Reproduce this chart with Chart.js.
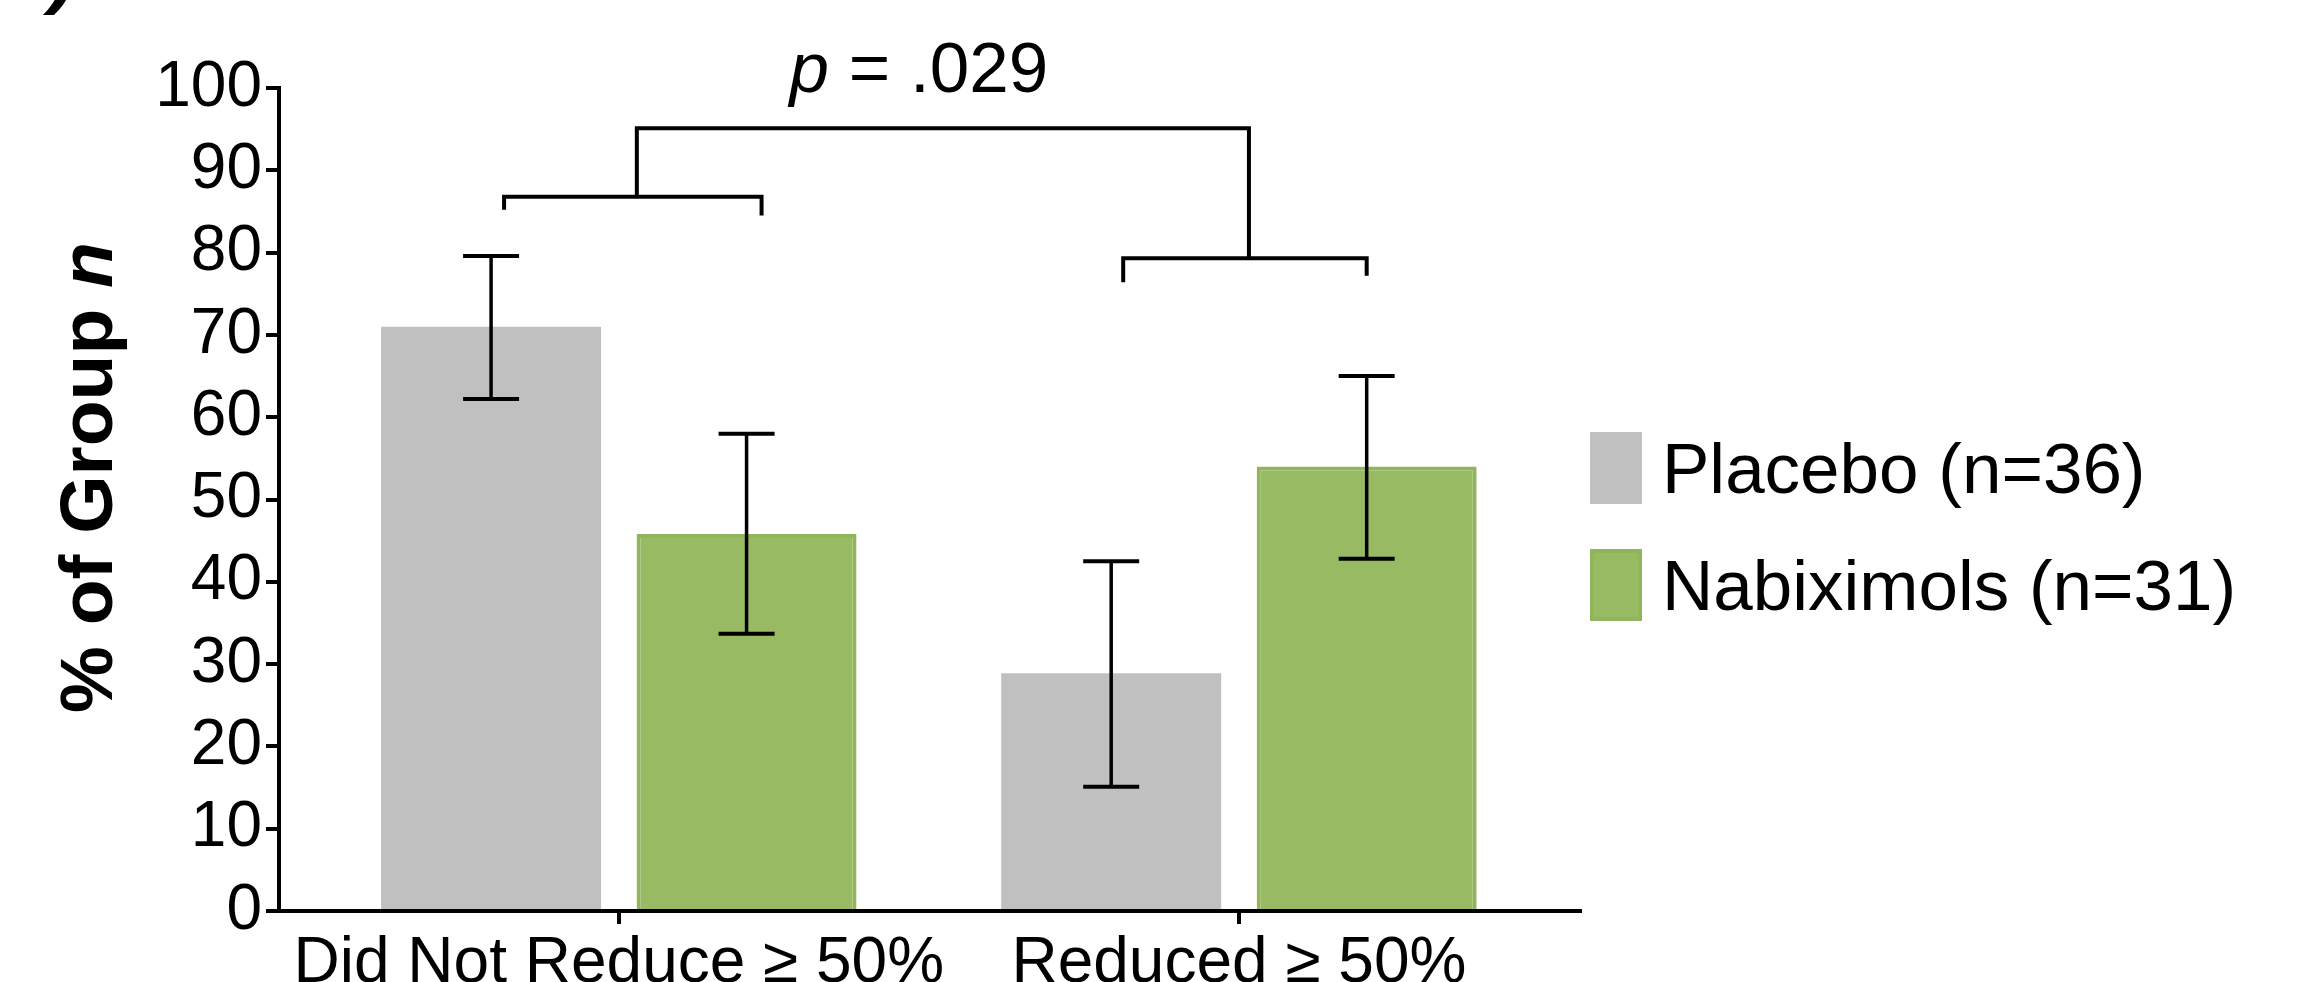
<!DOCTYPE html>
<html>
<head>
<meta charset="utf-8">
<script src="https://cdn.jsdelivr.net/npm/chart.js@4.4.1/dist/chart.umd.min.js"></script>
<style>
  html, body { margin: 0; padding: 0; background: #ffffff; }
  #wrap { width: 2301px; height: 982px; }
</style>
</head>
<body>
<div id="wrap"><canvas id="c" width="2301" height="982"></canvas></div>
<script>
// ---------------- data ----------------
const categories = ['Did Not Reduce \u2265 50%', 'Reduced \u2265 50%'];
const seriesNames = ['Placebo (n=36)', 'Nabiximols (n=31)'];
const placeboValues = [71.0, 28.9];
const nabiximolsValues = [45.8, 54.0];
const placeboErrLow = [62.2, 15.1];
const placeboErrHigh = [79.6, 42.5];
const nabiximolsErrLow = [33.7, 42.8];
const nabiximolsErrHigh = [58.0, 65.0];
const yTicks = [0, 10, 20, 30, 40, 50, 60, 70, 80, 90, 100];
const bracketLevels = [86.8, 79.3];
const bracketLegEnds = [[85.2, 84.5], [76.4, 77.2]];
const overallBracketLevel = 95.1;
const pValueText = ' = .029';
const yTitleMain = '% of Group ';
const yTitleItalic = 'n';

// ---------------- style ----------------
const FONT = "'Liberation Sans', Arial, Helvetica, sans-serif";
const GREY = '#c0c0c0';
const GREEN = '#97ba62';
const GREEN_EDGE = '#91b55b';
const LEG_NUDGE = [[13, 15], [12, 0]];

const annotations = {
  id: 'annotations',
  afterDatasetsDraw(chart) {
    const ctx = chart.ctx;
    const y = chart.scales.y;
    const metas = [chart.getDatasetMeta(0), chart.getDatasetMeta(1)];
    const errs = [[placeboErrLow, placeboErrHigh], [nabiximolsErrLow, nabiximolsErrHigh]];
    ctx.save();
    ctx.strokeStyle = '#000';
    ctx.lineCap = 'butt';
    // error bars
    metas.forEach((m, di) => {
      m.data.forEach((el, i) => {
        const x = el.x;
        const yl = y.getPixelForValue(errs[di][0][i]);
        const yh = y.getPixelForValue(errs[di][1][i]);
        ctx.lineWidth = 3.5;
        ctx.beginPath(); ctx.moveTo(x, yl); ctx.lineTo(x, yh); ctx.stroke();
        ctx.lineWidth = 4;
        ctx.beginPath();
        ctx.moveTo(x - 28, yl); ctx.lineTo(x + 28, yl);
        ctx.moveTo(x - 28, yh); ctx.lineTo(x + 28, yh);
        ctx.stroke();
      });
    });
    // group brackets
    ctx.lineWidth = 4;
    ctx.lineJoin = 'miter';
    const mids = [];
    bracketLevels.forEach((lvl, i) => {
      const xl = metas[0].data[i].x + LEG_NUDGE[i][0];
      const xr = metas[1].data[i].x + LEG_NUDGE[i][1];
      const yb = y.getPixelForValue(lvl);
      ctx.beginPath();
      ctx.moveTo(xl, y.getPixelForValue(bracketLegEnds[i][0]));
      ctx.lineTo(xl, yb);
      ctx.lineTo(xr, yb);
      ctx.lineTo(xr, y.getPixelForValue(bracketLegEnds[i][1]));
      ctx.stroke();
      mids.push({x: (xl + xr) / 2 + 4, y: yb});
    });
    // overall bracket
    const yt = y.getPixelForValue(overallBracketLevel);
    ctx.beginPath();
    ctx.moveTo(mids[0].x, mids[0].y);
    ctx.lineTo(mids[0].x, yt);
    ctx.lineTo(mids[1].x, yt);
    ctx.lineTo(mids[1].x, mids[1].y);
    ctx.stroke();
    // p value text
    ctx.fillStyle = '#000';
    ctx.textBaseline = 'alphabetic';
    ctx.textAlign = 'left';
    const fI = 'italic 71px ' + FONT, fN = '71px ' + FONT;
    ctx.font = fI; const wp = ctx.measureText('p').width;
    ctx.font = fN; const wr = ctx.measureText(pValueText).width;
    const cx = (mids[0].x + mids[1].x) / 2 - 24;
    const sx = cx - (wp + wr) / 2;
    const by = yt - 36;
    ctx.font = fI; ctx.fillText('p', sx, by);
    ctx.font = fN; ctx.fillText(pValueText, sx + wp, by);
    ctx.restore();
  },
  afterDraw(chart) {
    const ctx = chart.ctx;
    const area = chart.chartArea;
    ctx.save();
    ctx.fillStyle = '#000';
    // y-axis title, rotated, with italic n
    const fB = 'bold 75px ' + FONT, fBI = 'bold italic 75px ' + FONT;
    ctx.font = fB; const w1 = ctx.measureText(yTitleMain).width;
    ctx.font = fBI; const w2 = ctx.measureText(yTitleItalic).width;
    const cy = (area.top + area.bottom) / 2 - 22;
    ctx.translate(112, cy);
    ctx.rotate(-Math.PI / 2);
    ctx.textBaseline = 'alphabetic';
    ctx.textAlign = 'left';
    const sx = -(w1 + w2) / 2;
    ctx.font = fB; ctx.fillText(yTitleMain, sx, 0);
    ctx.font = fBI; ctx.fillText(yTitleItalic, sx + w1, 0);
    ctx.setTransform(1, 0, 0, 1, 0, 0);
    // panel label fragment at top-left (cut off by the top edge)
    ctx.font = 'bold italic 80px ' + FONT;
    ctx.fillText(')', 50, -2);
    // legend
    const ds = chart.data.datasets;
    const bx = area.right + 10;
    ds.forEach((d, i) => {
      const c = area.top + 380 + i * 117;
      ctx.fillStyle = d.backgroundColor;
      ctx.fillRect(bx, c - 36, 52, 72);
      if (d.borderColor) {
        ctx.strokeStyle = d.borderColor;
        ctx.lineWidth = 4;
        ctx.strokeRect(bx + 2, c - 34, 48, 68);
      }
      ctx.fillStyle = '#000';
      ctx.font = '71px ' + FONT;
      ctx.textBaseline = 'alphabetic';
      ctx.fillText(d.label, bx + 52 + 20, c + 25);
    });
    ctx.restore();
  }
};

new Chart(document.getElementById('c').getContext('2d'), {
  type: 'bar',
  data: {
    datasets: [
      {
        label: seriesNames[0],
        data: placeboValues.map((v, i) => ({x: i, y: v})),
        backgroundColor: GREY,
        borderWidth: 0,
        categoryPercentage: 0.824,
        barPercentage: 0.861
      },
      {
        label: seriesNames[1],
        data: nabiximolsValues.map((v, i) => ({x: i, y: v})),
        backgroundColor: GREEN,
        borderColor: GREEN_EDGE,
        borderWidth: {top: 4, left: 4, right: 4, bottom: 0},
        borderSkipped: 'start',
        categoryPercentage: 0.824,
        barPercentage: 0.861
      }
    ]
  },
  options: {
    responsive: false,
    animation: false,
    devicePixelRatio: 1,
    layout: {padding: {top: 88, right: 721, left: 0, bottom: 0}},
    plugins: {legend: {display: false}, tooltip: {enabled: false}},
    scales: {
      x: {
        type: 'linear',
        min: -0.548,
        max: 1.55,
        bounds: 'data',
        offset: false,
        afterBuildTicks(s) { s.ticks = categories.map((_, i) => ({value: i})); },
        afterFit(s) { s.height = 71; },
        ticks: {
          callback: (v, i) => categories[i],
          font: {family: FONT, size: 64},
          color: '#000',
          padding: 2,
          maxRotation: 0,
          minRotation: 0,
          autoSkip: false
        },
        grid: {offset: false, drawOnChartArea: false, drawTicks: true, tickLength: 13, color: '#000', lineWidth: 4},
        border: {display: true, color: '#000', width: 4}
      },
      y: {
        min: 0,
        max: 100,
        afterBuildTicks(s) { s.ticks = yTicks.map(v => ({value: v})); },
        afterFit(s) { s.width = 279; },
        ticks: {
          font: {family: FONT, size: 64},
          color: '#000',
          padding: 4
        },
        grid: {drawOnChartArea: false, drawTicks: true, tickLength: 13, color: '#000', lineWidth: 4},
        border: {display: true, color: '#000', width: 4}
      }
    }
  },
  plugins: [annotations]
});
</script>
</body>
</html>
